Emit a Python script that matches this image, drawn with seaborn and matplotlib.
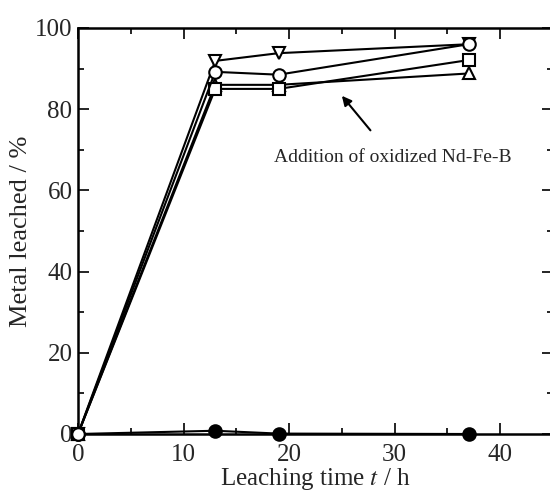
import pandas as pd
import seaborn as sns
import matplotlib.pyplot as plt
from matplotlib.ticker import MultipleLocator

# leaching data
time_h = [0, 13, 19, 37]
filled = [0, 0.8, 0.1, 0.0]
up_tri = [0, 86.0, 86.0, 88.8]
square = [0, 85.0, 85.0, 92.1]
down_tri = [0, 91.9, 93.8, 96.0]
circle = [0, 89.2, 88.5, 96.0]

# drawing order matters: later series sit on top
series = [
    ('o', 'black', filled),
    ('^', 'white', up_tri),
    ('v', 'white', down_tri),
    ('s', 'white', square),
    ('o', 'white', circle),
]

sns.set_style('ticks')
plt.rcParams['font.family'] = ['Liberation Serif', 'DejaVu Serif']
plt.rcParams['mathtext.fontset'] = 'stix'

fig = plt.figure(figsize=(5.5, 4.97), dpi=100)
ax = fig.add_axes([78 / 550, 1 - 434 / 497, (553 - 78) / 550, (434 - 28) / 497])

for marker, face, vals in series:
    df = pd.DataFrame({'t': time_h, 'y': vals})
    sns.lineplot(data=df, x='t', y='y', ax=ax, color='black', lw=1.5,
                 marker=marker, markersize=9, markerfacecolor=face,
                 markeredgecolor='black', markeredgewidth=1.5, clip_on=False,
                 zorder=3)

ax.set_xlim(0, 45)
ax.set_ylim(0, 100)
ax.xaxis.set_major_locator(MultipleLocator(10))
ax.xaxis.set_minor_locator(MultipleLocator(5))
ax.yaxis.set_major_locator(MultipleLocator(20))
ax.yaxis.set_minor_locator(MultipleLocator(10))
ax.tick_params(which='both', direction='in', top=True, right=True, width=1.2,
               labelsize=18, color='black')
ax.tick_params(axis='x', pad=7)
ax.tick_params(axis='y', pad=4)
ax.tick_params(which='major', length=8)
ax.tick_params(which='minor', length=4)
for s in ax.spines.values():
    s.set_linewidth(1.8)
    s.set_color('black')

ax.set_xlabel('Leaching time $t$ / h', fontsize=18, labelpad=0)
ax.set_ylabel('Metal leached / %', fontsize=19, labelpad=2)

ax.annotate('Addition of oxidized Nd-Fe-B', xy=(25.0, 83.3), xytext=(29.8, 68.2),
            ha='center', va='center', fontsize=14,
            arrowprops=dict(arrowstyle='-|>', color='black', lw=1.5,
                            shrinkA=14, shrinkB=0, mutation_scale=14))

fig.savefig('out.png', dpi=100)
